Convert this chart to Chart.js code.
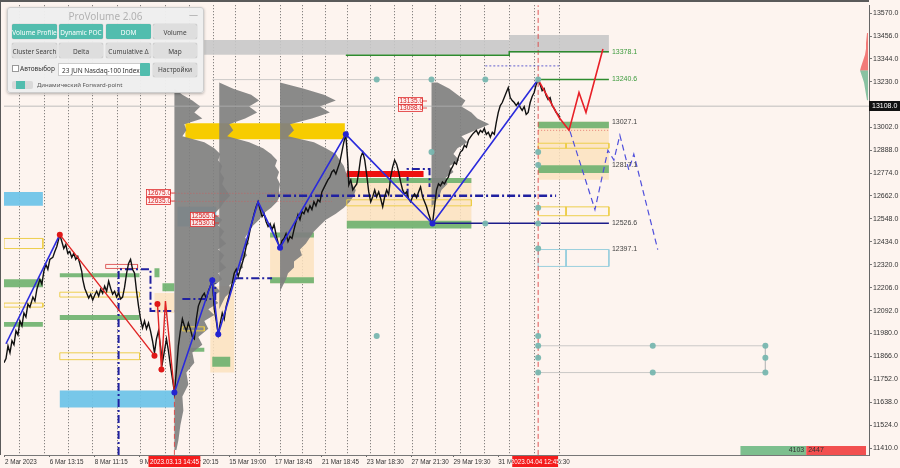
<!DOCTYPE html>
<html>
<head>
<meta charset="utf-8">
<title>NDX M15 - ProVolume</title>
<script src="https://cdn.jsdelivr.net/npm/chart.js@4.4.1/dist/chart.umd.min.js"></script>
<style>
  html, body { margin: 0; padding: 0; background: #fdf4ef; }
  #box { position: relative; width: 900px; height: 468px; }
  #panel { position: absolute; left: 7px; top: 7px; width: 195px; height: 84px; background: rgba(238,238,238,0.97);
           border: 1px solid #cdcdcd; border-radius: 3px; box-shadow: 0 1px 3px rgba(0,0,0,0.3);
           font-family: "Noto Sans", "Liberation Sans", sans-serif; }
  #panel .t { position: absolute; left: 0; top: 1px; width: 100%; text-align: center; font-size: 10px; color: #b2b2b2; }
  #panel .x { position: absolute; right: 5px; top: 0px; font-size: 9px; color: #a8a8a8; }
  #panel .b { position: absolute; height: 15px; line-height: 17px; font-size: 6.5px; text-align: center; color: #fff;
              background: #52bdae; border-radius: 2px; box-shadow: 0 0 1px rgba(0,0,0,0.45); white-space: nowrap; }
  #panel .g { background: #dedede; color: #444; }
  #panel .s { position: absolute; font-size: 6.5px; color: #333; white-space: nowrap; }
</style>
</head>
<body>
<div id="box">
  <canvas id="c" width="900" height="468"></canvas>
  <div id="panel">
    <div class="t">ProVolume 2.06</div>
    <div class="x">—</div>
    <div class="b" style="left:4px;top:16px;width:45px">Volume Profile</div>
    <div class="b" style="left:51px;top:16px;width:44px">Dynamic POC</div>
    <div class="b" style="left:98px;top:16px;width:45px">DOM</div>
    <div class="b g" style="left:145px;top:16px;width:44px">Volume</div>
    <div class="b g" style="left:4px;top:35px;width:45px">Cluster Search</div>
    <div class="b g" style="left:51px;top:35px;width:44px">Delta</div>
    <div class="b g" style="left:98px;top:35px;width:45px">Cumulative Δ</div>
    <div class="b g" style="left:145px;top:35px;width:44px">Map</div>
    <div class="s" style="left:4px;top:57px;width:5px;height:5px;border:1px solid #999;background:#fff"></div>
    <div class="s" style="left:12px;top:56px">Автовыбор</div>
    <div class="s" style="left:50px;top:55px;width:90px;height:13px;line-height:13px;background:#fff;border:1px solid #ccc;padding-left:3px;box-sizing:border-box">23 JUN Nasdaq-100 Index</div>
    <div class="s" style="left:132px;top:55px;width:10px;height:13px;background:#52bdae;border-radius:1px"></div>
    <div class="b g" style="left:145px;top:55px;width:44px;height:14px;line-height:14px">Настройки</div>
    <div class="s" style="left:4px;top:73px;width:21px;height:8px;background:#d9d9d9;border-radius:2px"></div>
    <div class="s" style="left:8px;top:73px;width:9px;height:8px;background:#52bdae"></div>
    <div class="s" style="left:29px;top:73px;font-size:6px;color:#555">Динамический Forward-point</div>
  </div>
</div>
<script>
// right price axis
var yTicks = [13570, 13456, 13344, 13230, 13116, 13002, 12888, 12774, 12662, 12548, 12434, 12320, 12206, 12092, 11980, 11866, 11752, 11638, 11524, 11410];
// time axis (bar numbers)
var gridBars = [17, 42, 66, 90, 115, 138, 163, 187, 211, 233, 257, 278, 301, 324, 346, 369, 393, 411, 434, 459, 483, 508, 533, 558];
var labelBars = [2, 47, 92, 137, 179, 227, 273, 320, 365, 410, 452, 497, 536];
var labelText = ['2 Mar 2023', '6 Mar 13:15', '8 Mar 11:15', '9 Mar 16:15', '13 Mar 20:15', '15 Mar 19:00', '17 Mar 18:45',
                 '21 Mar 18:45', '23 Mar 18:30', '27 Mar 21:30', '29 Mar 19:30', '31 Mar 17:30', '4 Apr 16:30'];

// price path [bar, price]
var priceLeg1 = [[1,11834],[3,11854],[5,11918],[7,11883],[9,11943],[11,11923],[13,11992],[15,11972],[17,12041],[19,12017],[21,12081],[23,12061],[25,12125],[27,12110],[30,12160],[32,12140],[34,12199],[37,12248],[39,12224],[41,12288],[43,12322],[45,12298],[47,12347],[50,12357],[52,12386],[54,12411],[57,12470]];
var priceLeg2 = [[59,12436],[61,12401],[63,12421],[65,12377],[67,12386],[69,12357],[71,12377],[73,12347],[75,12362],[77,12327],[79,12288],[80,12248],[82,12204],[84,12179],[86,12155],[88,12174],[90,12145],[92,12169],[94,12189],[96,12165],[98,12199],[100,12179],[102,12214],[104,12189],[106,12239],[108,12204],[110,12174],[112,12189],[114,12160],[116,12179],[118,12150],[120,12160],[122,12209],[124,12278],[126,12327],[128,12347],[130,12298],[132,12278],[134,12189],[136,12115],[138,12051],[140,12007],[142,12041],[144,12002],[146,12031],[148,11992],[150,11943],[152,11883],[154,11952],[156,11992],[158,11918],[160,11834],[162,11893],[164,11952],[166,11893],[168,11819],[170,11755],[172,11686]];
var priceLeg3 = [[174,11795],[176,11918],[178,11992],[180,12051],[182,12017],[184,11992],[186,12031],[188,12002],[190,11962],[192,11952],[194,12051],[196,12115],[198,12140],[200,12165],[202,12179],[204,12150],[206,12189],[208,12214],[210,12243],[212,12100],[214,12041],[216,11975],[218,12031],[220,12081],[222,12051],[224,12115],[226,12150],[228,12189],[230,12229],[232,12278],[234,12298],[236,12263],[238,12298],[240,12327],[242,12362],[244,12411],[246,12446],[248,12495],[250,12534],[252,12574],[254,12608],[256,12633],[258,12594],[260,12559],[262,12574],[264,12534],[266,12510],[268,12525],[270,12495],[272,12520],[274,12470],[276,12430],[278,12405],[280,12440],[282,12451],[284,12475],[286,12436],[288,12461],[290,12451],[292,12495],[294,12534],[296,12569],[298,12544],[300,12584],[302,12574],[304,12603],[306,12584],[308,12613],[310,12594],[312,12633],[314,12613],[316,12643],[318,12633],[320,12682],[322,12702],[324,12722],[326,12742],[328,12756],[330,12781],[332,12791],[334,12771],[336,12801],[338,12830],[340,12880],[342,12929],[344,12968]];
var priceLeg4 = [[346,12830],[347,12717],[349,12742],[351,12692],[353,12707],[355,12722],[357,12781],[359,12855],[361,12880],[363,12840],[365,12766],[367,12682],[369,12633],[371,12658],[373,12692],[375,12658],[377,12682],[379,12648],[381,12608],[383,12658],[385,12692],[387,12668],[389,12756],[391,12806],[393,12840],[395,12820],[397,12781],[399,12732],[401,12692],[403,12672],[405,12682],[407,12648],[409,12633],[411,12658],[413,12672],[415,12653],[417,12682],[419,12707],[421,12658],[423,12633],[425,12608],[427,12574],[429,12544],[431,12525]];
var priceLeg5 = [[433,12608],[435,12692],[437,12722],[439,12712],[441,12732],[443,12722],[445,12742],[447,12756],[449,12791],[451,12806],[453,12830],[455,12820],[457,12855],[459,12880],[461,12889],[463,12914],[465,12904],[467,12939],[469,12954],[471,12968],[473,12978],[475,12988],[477,12968],[479,12988],[481,12978],[483,12998],[485,12968],[487,12978],[489,12954],[491,12978],[493,12968],[495,13028],[497,13077],[499,13111],[501,13126],[503,13151],[505,13176],[507,13200],[509,13151],[511,13136],[513,13126],[515,13111],[517,13126],[519,13102],[521,13087],[523,13106],[525,13067],[527,13077],[529,13126],[531,13156],[533,13176],[535,13215],[537,13240]];
var priceLeg6 = [[539,13215],[541,13185],[543,13195],[545,13161],[547,13141],[549,13151],[551,13111],[553,13097],[555,13077],[557,13067],[559,13052]];

// zigzag swings and forecasts
var blueSwingA = [[3,11928],[57,12470]];
var blueSwingB = [[172,11686],[210,12243],[216,11975],[256,12633],[278,12405],[344,12968],[431,12525],[537,13240]];
var redSwingA = [[57,12470],[152,11869]];
var redSwingB = [[155,12125],[159,11800],[163,12140],[172,11686]];
var redForecast = [[537,13240],[558,13052],[568,12988],[578,13176],[585,13077],[602,13392]];
var blueForecast = [[569,12983],[594,12594],[607,12889],[613,12840],[619,12964],[628,12791],[633,12870],[657,12396]];
var blueNodes = [[172,11686],[210,12243],[216,11975],[278,12405],[344,12968],[431,12525]];
var redNodes = [[57,12470],[152,11869],[155,12125],[159,11800]];
var tealNodes = [[375,13240],[430,13240],[484,13240],[537,13240],[430,12880],[537,12880],[537,12816],[537,12603],[484,12525],[537,12525],[537,12401],[375,11967],[537,11967],[537,11918],[537,11859],[537,11785],[652,11918],[652,11785],[765,11918],[765,11859],[765,11785]];

// zones [fromBar, toBar, highPrice, lowPrice]
var greyZones = [[202,508,13437,13363],[508,608,13462,13373]];
var peachZones = [[537,608,13031,12742],[345,470,12751,12510],[268,312,12480,12229],[208,232,12214,11785],[152,172,12180,12081]];
var greenZones = [[537,608,13031,12998],[537,608,12815,12776],[345,470,12751,12727],[345,470,12539,12500],[1,40,12248,12209],[1,40,12036,12012],[57,137,12278,12258],[57,137,12071,12046],[268,312,12480,12456],[268,312,12258,12229],[187,202,11908,11888],[152,157,12303,12258],[160,172,12229,12189],[210,228,11864,11814]];
var blueZones = [[57,172,11696,11612],[1,40,12682,12613],[175,214,12608,12510]];
var pocZones = [[183,343,13023,12944]];
var redZones = [[345,422,12786,12756]];
var yellowFrames = [[537,565,12924,12899],[565,608,12924,12899],[537,565,12608,12564],[565,608,12608,12564],[1,40,12451,12401],[1,40,12130,12110],[57,137,12184,12160],[57,137,11883,11849],[180,202,12012,11992],[345,470,12643,12613]];
var cyanFrames = [[537,565,12396,12312],[565,608,12396,12312]];
var redFrames = [[103,135,12322,12302]];

// volume profiles: levels (price) and widths (bars) per profile
var profileLevels = [13225,13195,13165,13136,13106,13077,13047,13018,12988,12958,12929,12899,12870,12840,12811,12781,12751,12722,12692,12663,12633,12603,12574,12544,12515,12485,12456,12426,12396,12367,12337,12307,12278,12248,12219,12189,12160,12130,12100,12071,12041,12002,11962,11923,11884,11834,11785,11726,11666,11597,11523,11449,11400];
var profile1 = [0,0,8,18,26,20,28,10,12,8,30,40,46,44,48,46,50,48,52,56,50,46,40,48,44,50,46,52,44,50,46,52,44,48,40,46,38,44,34,40,30,34,24,28,18,20,12,14,8,9,6,4,2];
var profile2 = [0,14,32,40,30,38,26,10,14,8,30,44,52,58,56,60,58,61,60,61,58,52,44,40,34,30,26,30,24,28,22,24,16,18,10,12,6,3,0,0,0,0,0,0,0,0,0,0,0,0,0,0,0];
var profile3 = [0,24,44,56,40,50,32,10,14,8,34,46,56,60,64,66,70,72,76,74,70,64,56,46,40,34,30,26,20,22,14,14,8,6,3,0,0,0,0,0,0,0,0,0,0,0,0,0,0,0,0,0,0];
var profile4 = [6,18,26,34,30,40,46,58,44,30,36,26,22,28,18,22,14,16,10,8,4,0,0,0,0,0,0,0,0,0,0,0,0,0,0,0,0,0,0,0,0,0,0,0,0,0,0,0,0,0,0,0,0];
var profileBases = [172, 217, 278, 430];

// edge volume and bottom counter
var edgeAskLevels = [13471,13422,13393,13364,13334,13304,13285];
var edgeAskWidths = [1,2,2,3,5,7,8];
var edgeBidLevels = [13285,13255,13226,13196,13166,13137];
var edgeBidWidths = [8,6,4,3,2,1];
var counterBuy = 4103, counterSell = 2447;

var levelNotes = [[13378.1, '#3c9a3c'], [13240.6, '#3c9a3c'], [13027.1, '#444'], [12817.1, '#444'], [12526.6, '#444'], [12397.1, '#444']];
var redTags = [[12675, 143], [12635, 143], [12565, 188], [12530, 188], [13135, 396], [13098, 396]];
var lastPrice = 13108;
var markTimes = [[146, 198, '2023.03.13 14:45'], [511, 557, '2023.04.04 12:45']];

// ---------- build datasets ----------
var layers = [];
function pts(a) { return a.map(function (p) { return {x: p[0], y: p[1]}; }); }
function boxPts(b) { return [{x:b[0],y:b[2]},{x:b[1],y:b[2]},{x:b[1],y:b[3]},{x:b[0],y:b[3]},{x:b[0],y:b[2]}]; }
function addFill(data, color) {
  layers.push({data: data, fill: 'shape', backgroundColor: color, borderWidth: 0, borderDash: [1, 0], pointRadius: 0});
}
function addLine(data, color, w, dash) {
  layers.push({data: data, fill: false, borderColor: color, borderWidth: w, borderDash: dash || [], pointRadius: 0});
}
function addDots(a, color, r) {
  layers.push({data: pts(a), showLine: false, pointRadius: r, pointBackgroundColor: color, pointBorderWidth: 0});
}
function profilePts(base, w, levels) {
  var d = levels.map(function (p, i) { return {x: base + w[i], y: p}; });
  d.push({x: base, y: levels[levels.length - 1]}, {x: base, y: levels[0]});
  return d;
}

greyZones.forEach(function (b) { addFill(boxPts(b), 'rgba(200,200,200,0.9)'); });
peachZones.forEach(function (b) { addFill(boxPts(b), 'rgba(252,226,190,0.85)'); });
greenZones.forEach(function (b) { addFill(boxPts(b), 'rgba(112,178,112,0.92)'); });
blueZones.forEach(function (b) { addFill(boxPts(b), 'rgba(112,196,232,0.95)'); });
pocZones.forEach(function (b) { addFill(boxPts(b), '#f7cc00'); });
[profile1, profile2, profile3, profile4].forEach(function (w, i) {
  addFill(profilePts(profileBases[i], w, profileLevels), 'rgba(128,128,128,0.92)');
});
addFill(profilePts(868, edgeAskWidths.map(function (v) { return -v; }), edgeAskLevels), 'rgba(235,40,40,0.6)');
addFill(profilePts(868, edgeBidWidths.map(function (v) { return -v; }), edgeBidLevels), 'rgba(60,160,110,0.6)');
addFill(boxPts([740, 806, 11420, 11376]), '#7dbf8e');
addFill(boxPts([806, 866, 11420, 11376]), '#f25050');
yellowFrames.forEach(function (b) { addLine(boxPts(b), 'rgba(236,204,70,0.95)', 1); });
cyanFrames.forEach(function (b) { addLine(boxPts(b), 'rgba(150,205,220,0.95)', 1); });
redFrames.forEach(function (b) { addLine(boxPts(b), 'rgba(220,80,80,0.9)', 1); });

// faint guide lines
addLine(pts([[1, lastPrice], [869, lastPrice]]), 'rgba(175,175,175,0.8)', 1);
addLine(pts([[210, 13240], [537, 13240]]), 'rgba(185,185,185,0.7)', 1);
addLine(pts([[537, 11918], [765, 11918], [765, 11785], [537, 11785]]), 'rgba(190,190,190,0.8)', 1);
addLine(pts([[170, 12675], [330, 12675]]), 'rgba(220,80,80,0.6)', 1, [1, 2]);
addLine(pts([[170, 12635], [330, 12635]]), 'rgba(220,80,80,0.6)', 1, [1, 2]);
addLine(pts([[537, 12988], [608, 12988]]), 'rgba(220,80,80,0.7)', 1, [1, 2]);
addLine(pts([[484, 13308], [558, 13308]]), 'rgba(60,60,200,0.8)', 1, [2, 2]);
addLine(pts([[537, 11376], [537, 13610]]), 'rgba(220,60,60,0.85)', 1, [5, 3]);
addLine(pts([[172, 11376], [172, 11686]]), 'rgba(220,60,60,0.85)', 1, [5, 3]);

// levels
addLine(pts([[344, 13361], [508, 13361], [508, 13378.1], [608, 13378.1]]), '#2e8b2e', 1.5);
addLine(pts([[537, 13240.6], [608, 13240.6]]), '#2e8b2e', 1.5);
addLine(pts([[430, 12526.6], [608, 12526.6]]), '#1c1c8a', 1.5);
addLine(pts([[265, 12663], [555, 12663]]), '#2020a0', 2.5, [8, 3, 2, 3]);
addLine(pts([[116, 11376], [116, 12298], [148, 12298], [148, 12091], [172, 12091]]), '#2020a0', 2, [8, 3, 2, 3]);
addLine(pts([[180, 12150], [213, 12150], [213, 12229]]), '#2020a0', 2, [8, 3, 2, 3]);
addLine(pts([[233, 12253], [270, 12253]]), '#2020a0', 2, [8, 3, 2, 3]);
addLine(pts([[406, 12658], [406, 12796], [428, 12796], [428, 12707]]), '#2020a0', 2, [8, 3, 2, 3]);
redZones.forEach(function (b) { addFill(boxPts(b), '#ee1010'); });

// price
addLine(pts([].concat(priceLeg1, priceLeg2, priceLeg3, priceLeg4, priceLeg5, priceLeg6)), '#111', 1.4);

// swings
addLine(pts(blueSwingA), '#2b2bdc', 1.6);
addLine(pts(blueSwingB), '#2b2bdc', 1.6);
addLine(pts(redSwingA), '#e02424', 1.4);
addLine(pts(redSwingB), '#e02424', 1.4);
addLine(pts(redForecast), '#e82028', 1.6);
addLine(pts(blueForecast), '#5050dc', 1.2, [6, 4]);
addDots(tealNodes, 'rgba(120,182,175,0.95)', 3);
addDots(blueNodes, '#2424d0', 3);
addDots(redNodes, '#e01818', 3);

layers.forEach(function (d, i) { d.order = layers.length - i; });

// ---------- text overlays ----------
var notes = {
  id: 'notes',
  afterDatasetsDraw: function (chart) {
    var ctx = chart.ctx, x = chart.scales.x, y = chart.scales.y;
    ctx.save();
    ctx.font = '7px "Liberation Sans"';
    ctx.textBaseline = 'middle';
    levelNotes.forEach(function (n) {
      ctx.fillStyle = n[1];
      ctx.fillText(n[0].toFixed(1), x.getPixelForValue(611), y.getPixelForValue(n[0]));
    });
    ctx.font = '6.5px "Liberation Sans"';
    redTags.forEach(function (t) {
      var px = Math.round(x.getPixelForValue(t[1])), py = Math.round(y.getPixelForValue(t[0]));
      ctx.fillStyle = 'rgba(255,236,236,0.95)';
      ctx.fillRect(px, py - 3.5, 24, 7);
      ctx.strokeStyle = '#e03030';
      ctx.lineWidth = 0.8;
      ctx.strokeRect(px + 0.5, py - 3.5, 24, 7);
      ctx.beginPath(); ctx.moveTo(px + 24, py); ctx.lineTo(px + 29, py); ctx.stroke();
      ctx.fillStyle = '#d41c1c';
      ctx.fillText(t[0].toFixed(1), px + 1.5, py + 0.5);
    });
    ctx.fillStyle = '#333';
    ctx.font = '7px "Liberation Sans"';
    ctx.textAlign = 'right';
    ctx.fillText(String(counterBuy), x.getPixelForValue(804), y.getPixelForValue(11398));
    ctx.textAlign = 'left';
    ctx.fillText(String(counterSell), x.getPixelForValue(808), y.getPixelForValue(11398));
    ctx.restore();
  },
  afterDraw: function (chart) {
    var ctx = chart.ctx, x = chart.scales.x, y = chart.scales.y, a = chart.chartArea;
    ctx.save();
    ctx.fillStyle = '#5a5a5a';
    ctx.fillRect(0, 0, a.right, 2);
    ctx.fillRect(0, 0, 1, a.bottom);
    ctx.font = '7px "Liberation Sans"';
    ctx.textBaseline = 'middle';
    var py = Math.round(y.getPixelForValue(lastPrice));
    ctx.fillStyle = '#111';
    ctx.fillRect(a.right, py - 5, 31, 10);
    ctx.fillStyle = '#fff';
    ctx.fillText(lastPrice.toFixed(1), a.right + 3, py + 0.5);
    ctx.font = '6.3px "Liberation Sans"';
    markTimes.forEach(function (m) {
      var x1 = x.getPixelForValue(m[0]), x2 = x.getPixelForValue(m[1]);
      ctx.fillStyle = '#f41c1c';
      ctx.fillRect(x1, a.bottom + 1, x2 - x1, 11);
      ctx.fillStyle = '#fff';
      ctx.textAlign = 'center';
      ctx.fillText(m[2], (x1 + x2) / 2, a.bottom + 7);
    });
    ctx.restore();
  }
};

Chart.defaults.font.family = '"Liberation Sans", Arial, sans-serif';
var allTicks = gridBars.concat(labelBars).filter(function (v, i, arr) { return arr.indexOf(v) === i; })
  .sort(function (p, q) { return p - q; });

new Chart(document.getElementById('c'), {
  type: 'line',
  data: {datasets: layers},
  options: {
    responsive: false,
    animation: false,
    devicePixelRatio: 1,
    layout: {padding: {top: 2, left: 1, right: 0, bottom: 0}},
    plugins: {legend: {display: false}, tooltip: {enabled: false}},
    scales: {
      x: {
        type: 'linear', min: 1, max: 869,
        afterBuildTicks: function (s) { s.ticks = allTicks.map(function (v) { return {value: v}; }); },
        afterFit: function (s) { s.height = 13; },
        ticks: {
          autoSkip: false, maxRotation: 0, align: 'start', padding: 1,
          font: {size: 6.3}, color: '#333',
          callback: function (v) { var i = labelBars.indexOf(v); return i < 0 ? '' : labelText[i]; }
        },
        grid: {
          color: function (c) { return gridBars.indexOf(c.tick && c.tick.value) >= 0 ? 'rgba(80,80,80,0.85)' : 'rgba(0,0,0,0)'; },
          tickLength: 2,
          tickColor: function (c) { return labelBars.indexOf(c.tick && c.tick.value) >= 0 ? '#666' : 'rgba(0,0,0,0)'; }
        },
        border: {display: true, color: '#777', width: 1, dash: [1, 2]}
      },
      y: {
        type: 'linear', position: 'right', min: 11375.5, max: 13609.5,
        afterBuildTicks: function (s) { s.ticks = yTicks.map(function (v) { return {value: v}; }); },
        afterFit: function (s) { s.width = 31; },
        ticks: {font: {size: 7}, color: '#333', padding: 1, callback: function (v) { return v.toFixed(1); }},
        grid: {drawOnChartArea: false, drawTicks: true, tickLength: 3, color: '#777'},
        border: {display: true, color: '#666', width: 1}
      }
    }
  },
  plugins: [notes]
});
</script>
</body>
</html>
